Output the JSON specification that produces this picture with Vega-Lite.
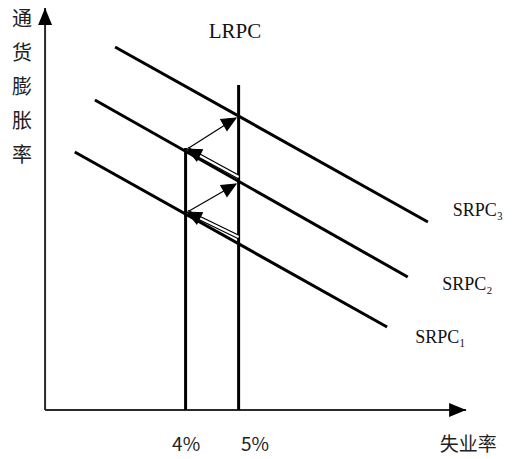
{
  "$schema": "https://vega.github.io/schema/vega-lite/v6.json",
  "width": 517,
  "height": 459,
  "autosize": {"type": "fit", "contains": "padding"},
  "padding": 0,
  "background": "white",
  "config": {"view": {"stroke": null}},
  "datasets": {
    "axes": [
      {"axis": "通货膨胀率", "x": 1.35, "y": 0, "x2": 1.35, "y2": 8.04},
      {"axis": "失业率", "x": 1.35, "y": 0, "x2": 9.29, "y2": 0}
    ],
    "curves": [
      {"curve": "SRPC3", "x": 2.67, "y": 7.26, "x2": 8.57, "y2": 3.76},
      {"curve": "SRPC2", "x": 2.29, "y": 6.2, "x2": 8.19, "y2": 2.66},
      {"curve": "SRPC1", "x": 1.91, "y": 5.16, "x2": 7.8, "y2": 1.66},
      {"curve": "LRPC 4%", "x": 4, "y": 0, "x2": 4, "y2": 5.24},
      {"curve": "LRPC 5%", "x": 5, "y": 0, "x2": 5, "y2": 6.5}
    ],
    "arrows": [
      {"step": "预期上升1", "type": "shift", "x": 4, "y": 3.94, "x2": 4.95, "y2": 4.52},
      {"step": "预期上升2", "type": "shift", "x": 4, "y": 5.2, "x2": 4.95, "y2": 5.84},
      {"step": "回到自然率1", "type": "move", "x": 5, "y": 3.46, "x2": 4.03, "y2": 3.96},
      {"step": "回到自然率2", "type": "move", "x": 5, "y": 4.66, "x2": 4.03, "y2": 5.22}
    ],
    "serifLabels": [
      {"text": "LRPC", "x": 4.93, "y": 7.56, "pos": "center"},
      {"text": "SRPC₃", "x": 9.04, "y": 3.98, "pos": "left"},
      {"text": "SRPC₂", "x": 8.84, "y": 2.5, "pos": "left"},
      {"text": "SRPC₁", "x": 8.33, "y": 1.44, "pos": "left"}
    ],
    "sansLabels": [
      {"text": "4%", "x": 4.01, "y": -0.7},
      {"text": "5%", "x": 5.31, "y": -0.7},
      {"text": "失业率", "x": 9.33, "y": -0.7}
    ],
    "yTitle": [
      {"text": "通\n货\n膨\n胀\n率", "x": 0.915, "y": 8.0}
    ]
  },
  "encoding": {
    "x": {"field": "x", "type": "quantitative", "axis": null, "scale": {"domain": [0.5, 10.25], "nice": false, "zero": false}},
    "y": {"field": "y", "type": "quantitative", "axis": null, "scale": {"domain": [-0.98, 8.2], "nice": false, "zero": false}}
  },
  "layer": [
    {
      "data": {"name": "axes"},
      "mark": {"type": "rule", "strokeWidth": 2, "color": "#2a2a2a"},
      "encoding": {"x2": {"field": "x2"}, "y2": {"field": "y2"}}
    },
    {
      "data": {"name": "curves"},
      "mark": {"type": "rule", "strokeWidth": 3, "color": "#000000"},
      "encoding": {"x2": {"field": "x2"}, "y2": {"field": "y2"}}
    },
    {
      "data": {"name": "arrows"},
      "transform": [{"filter": "datum.type === 'shift'"}],
      "mark": {"type": "rule", "strokeWidth": 1.2, "color": "#000000"},
      "encoding": {"x2": {"field": "x2"}, "y2": {"field": "y2"}}
    },
    {
      "data": {"name": "arrows"},
      "transform": [{"filter": "datum.type === 'move'"}],
      "mark": {"type": "rule", "strokeWidth": 4.5, "color": "#000000"},
      "encoding": {"x2": {"field": "x2"}, "y2": {"field": "y2"}}
    },
    {
      "data": {"name": "arrows"},
      "transform": [{"filter": "datum.type === 'move'"}],
      "mark": {"type": "rule", "strokeWidth": 2, "color": "#ffffff"},
      "encoding": {"x2": {"field": "x2"}, "y2": {"field": "y2"}}
    },
    {
      "data": {"name": "arrows"},
      "transform": [{"filter": "datum.type === 'shift'"}],
      "mark": {"type": "point", "shape": "M0,0 L-0.9,2 L0.9,2 Z", "filled": true, "fill": "#000000", "stroke": "#000000", "strokeWidth": 1, "opacity": 1, "size": 196, "angle": 60},
      "encoding": {"x": {"field": "x2", "type": "quantitative"}, "y": {"field": "y2", "type": "quantitative"}}
    },
    {
      "data": {"name": "arrows"},
      "transform": [{"filter": "datum.type === 'move'"}],
      "mark": {"type": "point", "shape": "M0,0 L-0.9,2 L0.9,2 Z", "filled": true, "fill": "#000000", "stroke": "#000000", "strokeWidth": 1, "opacity": 1, "size": 196, "angle": 297},
      "encoding": {"x": {"field": "x2", "type": "quantitative"}, "y": {"field": "y2", "type": "quantitative"}}
    },
    {
      "data": {"name": "axes"},
      "transform": [{"filter": "datum.axis === '通货膨胀率'"}],
      "mark": {"type": "point", "shape": "M0,0 L-0.82,2 L0.82,2 Z", "filled": true, "color": "#000000", "opacity": 1, "size": 289, "angle": 0},
      "encoding": {"x": {"field": "x2", "type": "quantitative"}, "y": {"field": "y2", "type": "quantitative"}}
    },
    {
      "data": {"name": "axes"},
      "transform": [{"filter": "datum.axis === '失业率'"}],
      "mark": {"type": "point", "shape": "M0,0 L-0.82,2 L0.82,2 Z", "filled": true, "color": "#000000", "opacity": 1, "size": 289, "angle": 90},
      "encoding": {"x": {"field": "x2", "type": "quantitative"}, "y": {"field": "y2", "type": "quantitative"}}
    },
    {
      "data": {"name": "serifLabels"},
      "transform": [{"filter": "datum.pos === 'center'"}],
      "mark": {"type": "text", "font": "Liberation Serif", "fontSize": 21, "color": "#111111", "align": "center", "baseline": "middle"},
      "encoding": {"text": {"field": "text"}}
    },
    {
      "data": {"name": "serifLabels"},
      "transform": [{"filter": "datum.pos === 'left'"}],
      "mark": {"type": "text", "font": "Liberation Serif", "fontSize": 18, "color": "#111111", "align": "left", "baseline": "middle"},
      "encoding": {"text": {"field": "text"}}
    },
    {
      "data": {"name": "sansLabels"},
      "mark": {"type": "text", "font": "Noto Sans CJK SC", "fontSize": 19, "color": "#222222", "align": "center", "baseline": "middle"},
      "encoding": {"text": {"field": "text"}}
    },
    {
      "data": {"name": "yTitle"},
      "mark": {"type": "text", "font": "Noto Sans CJK SC", "fontSize": 20, "color": "#222222", "align": "center", "baseline": "top", "lineBreak": "\n", "lineHeight": 34},
      "encoding": {"text": {"field": "text"}}
    }
  ]
}
